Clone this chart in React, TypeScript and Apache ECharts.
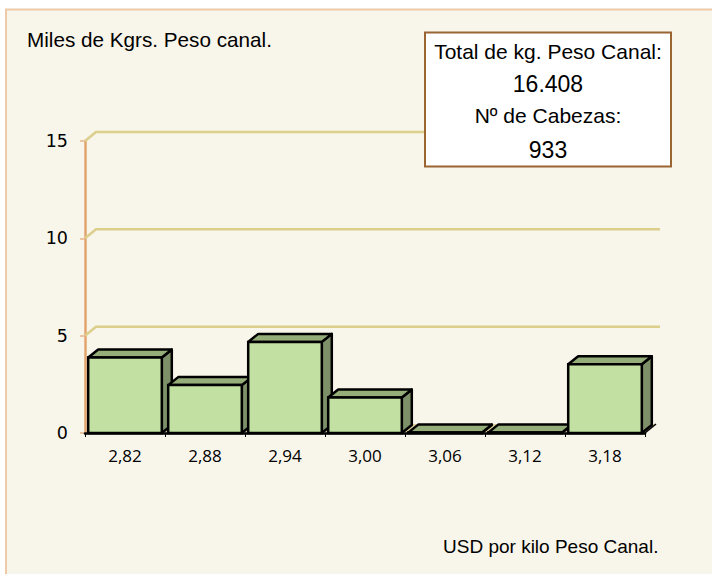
import React, { useEffect, useRef } from "react";
import * as echarts from "echarts";

const categories = ["2,82", "2,88", "2,94", "3,00", "3,06", "3,12", "3,18"];
const values = [3.88, 2.46, 4.68, 1.82, 0.02, 0.02, 3.53];
const yTicks = [5, 10, 15];
const titleText = "Miles de Kgrs. Peso canal.";
const xTitleText = "USD por kilo Peso Canal.";
const boxLines = ["Total de kg. Peso Canal:", "16.408", "Nº de Cabezas:", "933"];

const DX = 10;
const DY = 8;
const WALL_DX = 11;
const WALL_DY = 9;

export default function App() {
  const ref = useRef<HTMLDivElement>(null);
  useEffect(() => {
    if (!ref.current) return;
    const chart = echarts.init(ref.current, null, { renderer: "svg" });
    const option: any = {
      animation: false,
      backgroundColor: "#ffffff",
      grid: { left: 85, top: 141, width: 560, height: 292 },
      xAxis: {
        type: "category",
        data: categories,
        boundaryGap: true,
        z: 5,
        axisLine: { lineStyle: { color: "#000000", width: 2.5 } },
        axisTick: { show: true, length: 4, alignWithLabel: false, lineStyle: { color: "#000000", width: 1 } },
        axisLabel: { fontFamily: "Open Sans", fontSize: 17, color: "#000000", margin: 14 },
        splitLine: { show: false },
      },
      yAxis: {
        type: "value",
        min: 0,
        max: 15,
        interval: 5,
        axisLine: { show: true, lineStyle: { color: "#e2a46e", width: 2.5 } },
        axisTick: { show: true, length: 5, lineStyle: { color: "#e8b48a", width: 1.5 } },
        axisLabel: { fontFamily: "DejaVu Sans", fontSize: 17.5, color: "#000000", margin: 17 },
        splitLine: { show: false },
      },
      series: [
        {
          type: "custom",
          name: "floor",
          z: 1,
          silent: true,
          data: [[0, 0]],
          encode: { x: 0, y: 1 },
          renderItem: (params: any, api: any) => {
            const cs = params.coordSys;
            const y0 = api.coord([0, 0])[1];
            const x0 = cs.x;
            const x1 = cs.x + cs.width;
            return {
              type: "group",
              children: [
                {
                  type: "polygon",
                  shape: { points: [[x0, y0], [x1, y0], [x1 + WALL_DX, y0 - WALL_DY], [x0 + WALL_DX, y0 - WALL_DY]] },
                  style: { fill: "#dccf9e", stroke: null },
                },
                {
                  type: "line",
                  shape: { x1: x1, y1: y0, x2: x1 + WALL_DX, y2: y0 - WALL_DY },
                  style: { stroke: "#000000", lineWidth: 1.5 },
                },
              ],
            };
          },
        },
        {
          type: "custom",
          name: "gridlines",
          z: 1,
          silent: true,
          data: yTicks.map((t) => [0, t]),
          encode: { x: 0, y: 1 },
          renderItem: (params: any, api: any) => {
            const cs = params.coordSys;
            const y = api.coord([0, api.value(1)])[1];
            return {
              type: "polyline",
              shape: {
                points: [
                  [cs.x, y],
                  [cs.x + WALL_DX, y - WALL_DY],
                  [cs.x + cs.width + 15, y - WALL_DY],
                ],
              },
              style: { stroke: "#dccf8c", lineWidth: 2.5, fill: null },
            };
          },
        },
        {
          type: "custom",
          name: "bars",
          z: 3,
          data: values.map((v, i) => [i, v]),
          encode: { x: 0, y: 1 },
          renderItem: (params: any, api: any) => {
            const idx = api.value(0);
            const v = api.value(1);
            const top = api.coord([idx, v]);
            const base = api.coord([idx, 0]);
            const band = api.size([1, 0])[0];
            const w = band * 0.92;
            const x1 = top[0] - w / 2;
            const x2 = x1 + w;
            const y = top[1];
            const y0 = base[1];
            const lw = 2.5;
            return {
              type: "group",
              children: [
                {
                  type: "polygon",
                  shape: { points: [[x2, y], [x2 + DX, y - DY], [x2 + DX, y0 - DY], [x2, y0]] },
                  style: { fill: "#7d9068", stroke: "#000000", lineWidth: lw, lineJoin: "round" },
                },
                {
                  type: "polygon",
                  shape: { points: [[x1, y], [x1 + DX, y - DY], [x2 + DX, y - DY], [x2, y]] },
                  style: { fill: "#94ad79", stroke: "#000000", lineWidth: lw, lineJoin: "round" },
                },
                {
                  type: "rect",
                  shape: { x: x1, y: y, width: w, height: Math.max(0, y0 - y) },
                  style: { fill: "#c2e0a2", stroke: "#000000", lineWidth: lw },
                },
              ],
            };
          },
        },
      ],
      graphic: [
        {
          type: "rect",
          z: -10,
          silent: true,
          shape: { x: 6, y: 9.5, width: 800, height: 700 },
          style: { fill: "#f8f5ea", stroke: "#eecaa8", lineWidth: 2 },
        },
        {
          type: "text",
          z: 10,
          style: {
            x: 27,
            y: 39,
            text: titleText,
            font: "20.7px 'Liberation Sans', Arial, sans-serif",
            fill: "#000000",
            textAlign: "left",
            textVerticalAlign: "middle",
          },
        },
        {
          type: "text",
          z: 10,
          style: {
            x: 443,
            y: 546.5,
            text: xTitleText,
            font: "19px 'Liberation Sans', Arial, sans-serif",
            fill: "#000000",
            textAlign: "left",
            textVerticalAlign: "middle",
          },
        },
        {
          type: "rect",
          z: 20,
          shape: { x: 425, y: 32.5, width: 246, height: 134 },
          style: { fill: "#ffffff", stroke: "#9a6433", lineWidth: 2 },
        },
        {
          type: "text",
          z: 21,
          style: { x: 548, y: 51.5, text: boxLines[0], font: "21px 'Liberation Sans', Arial, sans-serif", fill: "#000000", textAlign: "center", textVerticalAlign: "middle" },
        },
        {
          type: "text",
          z: 21,
          style: { x: 548, y: 84.3, text: boxLines[1], font: "23px 'Liberation Sans', Arial, sans-serif", fill: "#000000", textAlign: "center", textVerticalAlign: "middle" },
        },
        {
          type: "text",
          z: 21,
          style: { x: 548, y: 115.3, text: boxLines[2], font: "21px 'Liberation Sans', Arial, sans-serif", fill: "#000000", textAlign: "center", textVerticalAlign: "middle" },
        },
        {
          type: "text",
          z: 21,
          style: { x: 548, y: 149.7, text: boxLines[3], font: "23px 'Liberation Sans', Arial, sans-serif", fill: "#000000", textAlign: "center", textVerticalAlign: "middle" },
        },
      ],
    };
    chart.setOption(option);
    return () => chart.dispose();
  }, []);
  return (
    <div
      ref={ref}
      style={{ position: "fixed", left: 0, top: 0, width: 712, height: 574 }}
    />
  );
}
